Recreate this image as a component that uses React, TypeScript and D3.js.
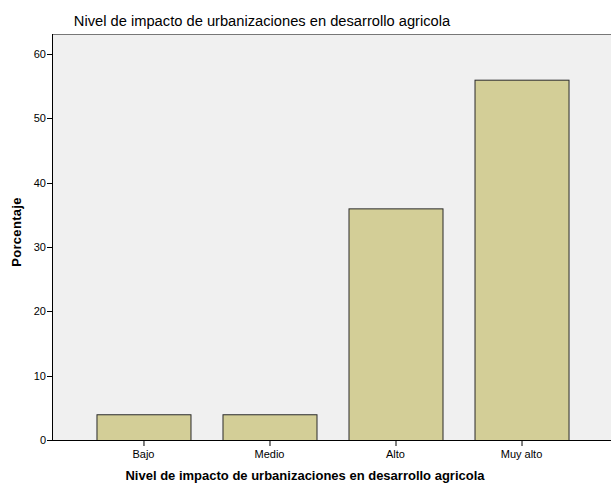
import React from "react";
import * as d3 from "d3";

const categories = ["Bajo", "Medio", "Alto", "Muy alto"];
const values = [4, 4, 36, 56];
const yTicks = [0, 10, 20, 30, 40, 50, 60];

const W = 611, H = 487;
const left = 52, right = 613, top = 34, bottom = 440;

export default function App() {
  const x = d3.scaleBand<string>().domain(categories).range([left, right]).paddingInner(0.254).paddingOuter(0.353);
  const y = d3.scaleLinear().domain([0, 63.1]).range([bottom, top]);
  const font = "'Liberation Sans', Arial, sans-serif";
  return (
    <svg width={W} height={H} style={{ position: "absolute", left: 0, top: 0, background: "#fff" }} fontFamily={font}>
      <rect x={left} y={top} width={right - left} height={bottom - top} fill="#f0f0f0" />
      <line x1={left} x2={right} y1={top + 0.5} y2={top + 0.5} stroke="#777" />
      {categories.map((c, i) => (
        <g key={c}>
          <rect x={x(c)! + 0.5} y={y(values[i]) + 0.5} width={x.bandwidth()} height={bottom - y(values[i])} fill="#d3ce97" stroke="#2a2a2a" strokeWidth={1} />
          <line x1={x(c)! + x.bandwidth() / 2 + 0.5} x2={x(c)! + x.bandwidth() / 2 + 0.5} y1={bottom} y2={bottom + 6} stroke="#000" />
          <text x={x(c)! + x.bandwidth() / 2} y={bottom + 18} fontSize={11} textAnchor="middle" fill="#000">{c}</text>
        </g>
      ))}
      <line x1={left + 0.5} x2={left + 0.5} y1={top} y2={bottom} stroke="#000" />
      <line x1={left} x2={right} y1={bottom + 0.5} y2={bottom + 0.5} stroke="#000" />
      {yTicks.map((t) => (
        <g key={t}>
          <line x1={left - 5} x2={left} y1={Math.round(y(t)) + 0.5} y2={Math.round(y(t)) + 0.5} stroke="#000" />
          <text x={left - 6} y={y(t) + 4} fontSize={11} textAnchor="end" fill="#000">{t}</text>
        </g>
      ))}
      <text x={262} y={26} fontSize={14.7} textAnchor="middle" fill="#000">Nivel de impacto de urbanizaciones en desarrollo agricola</text>
      <text x={305} y={480} fontSize={13} fontWeight="bold" textAnchor="middle" fill="#000">Nivel de impacto de urbanizaciones en desarrollo agricola</text>
      <text transform={`translate(21,232) rotate(-90)`} fontSize={13} letterSpacing={0.3} fontWeight="bold" textAnchor="middle" fill="#000">Porcentaje</text>
    </svg>
  );
}
